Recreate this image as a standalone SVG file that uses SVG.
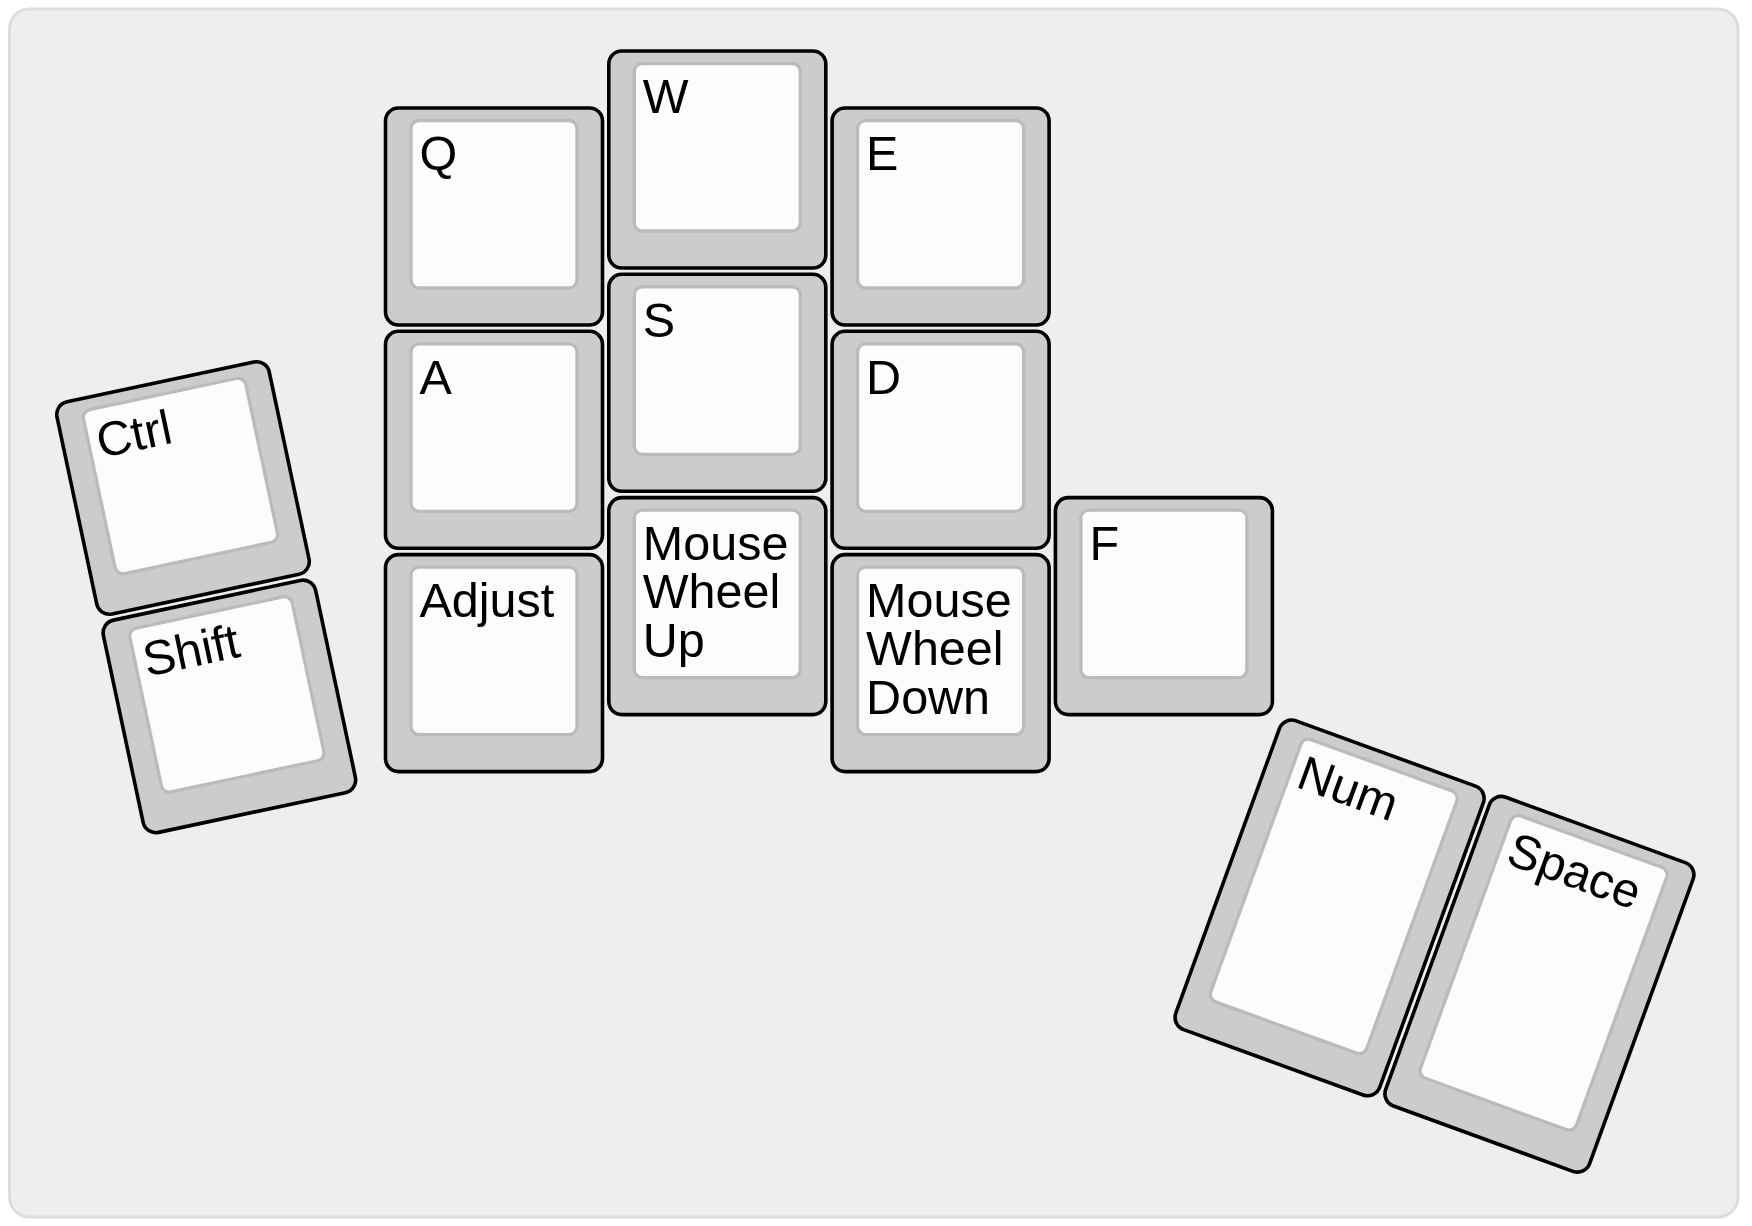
<svg xmlns="http://www.w3.org/2000/svg" width="1752" height="1226" viewBox="0 0 1752 1226">
<style>
.outer{fill:#cccccc;stroke:#000;stroke-width:3.6}
.inner{fill:#fcfcfc;stroke:#bbbbbb;stroke-width:3.3}
.lbl{font-family:"Liberation Sans",Arial,Helvetica,sans-serif;font-size:48.5px;fill:#000}
</style>
<defs>
<g id="cap1">
<rect class="outer" x="0" y="0" width="217" height="217" rx="13"/>
<rect class="inner" x="25.5" y="12.5" width="166" height="167.5" rx="8"/>
</g>
<g id="cap15">
<rect class="outer" x="0" y="0" width="217" height="328.6" rx="13"/>
<rect class="inner" x="25.5" y="12.5" width="166" height="279.1" rx="8"/>
</g>
</defs>
<rect width="1752" height="1226" fill="#ffffff"/>
<rect id="board" x="9.5" y="9" width="1728.5" height="1208" rx="20" fill="#eeeeee" stroke="#dddddd" stroke-width="3"/>
<g id="connectors"/>
<g id="key-q" transform="translate(385.5,108)"><use href="#cap1"/><text class="lbl" x="34" y="62.3">Q</text></g>
<g id="key-w" transform="translate(608.8,51)"><use href="#cap1"/><text class="lbl" x="34" y="62.3">W</text></g>
<g id="key-e" transform="translate(832.1,108)"><use href="#cap1"/><text class="lbl" x="34" y="62.3">E</text></g>
<g id="key-a" transform="translate(385.5,331.3)"><use href="#cap1"/><text class="lbl" x="34" y="62.3">A</text></g>
<g id="key-s" transform="translate(608.8,274.3)"><use href="#cap1"/><text class="lbl" x="34" y="62.3">S</text></g>
<g id="key-d" transform="translate(832.1,331.3)"><use href="#cap1"/><text class="lbl" x="34" y="62.3">D</text></g>
<g id="key-adjust" transform="translate(385.5,554.6)"><use href="#cap1"/><text class="lbl" x="34" y="62.3">Adjust</text></g>
<g id="key-mwu" transform="translate(608.8,497.6)"><use href="#cap1"/><text class="lbl" x="34" y="62.3">Mouse<tspan x="34" dy="48.5">Wheel</tspan><tspan x="34" dy="48.5">Up</tspan></text></g>
<g id="key-mwd" transform="translate(832.1,554.6)"><use href="#cap1"/><text class="lbl" x="34" y="62.3">Mouse<tspan x="34" dy="48.5">Wheel</tspan><tspan x="34" dy="48.5">Down</tspan></text></g>
<g id="key-f" transform="translate(1055.4,497.6)"><use href="#cap1"/><text class="lbl" x="34" y="62.3">F</text></g>
<g id="key-ctrl" transform="translate(183,488) rotate(-12) translate(-108.5,-108.5)"><use href="#cap1"/><text class="lbl" x="34" y="62.3">Ctrl</text></g>
<g id="key-shift" transform="translate(229.4,706.4) rotate(-12) translate(-108.5,-108.5)"><use href="#cap1"/><text class="lbl" x="34" y="62.3">Shift</text></g>
<g id="key-num" transform="translate(1329.6,907.9) rotate(20) translate(-108.5,-164.3)"><use href="#cap15"/><text class="lbl" x="34" y="62.3">Num</text></g>
<g id="key-space" transform="translate(1539.4,984.3) rotate(20) translate(-108.5,-164.3)"><use href="#cap15"/><text class="lbl" x="34" y="62.3">Space</text></g>
</svg>
